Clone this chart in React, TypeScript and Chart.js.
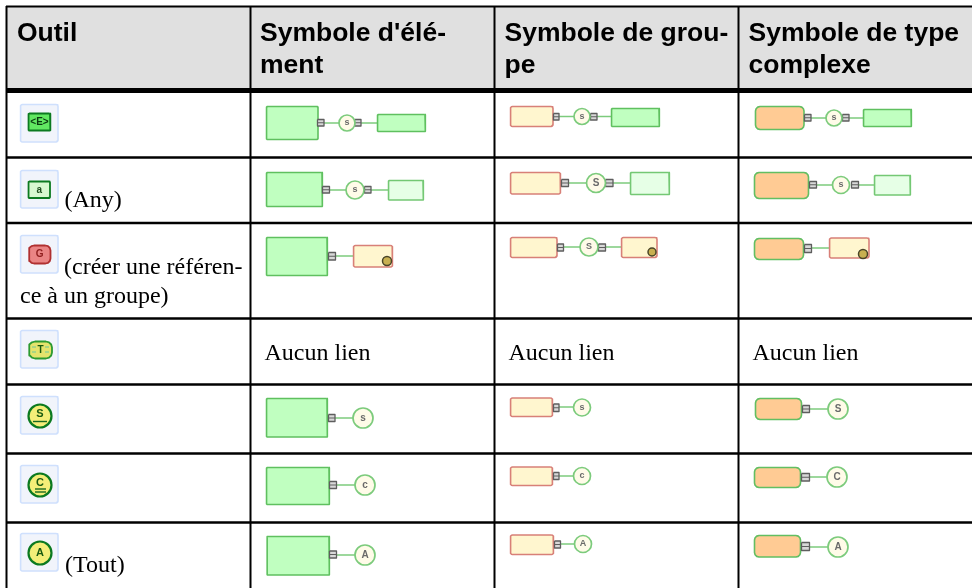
import React, { useEffect, useRef } from "react";
import { Chart, registerables } from "chart.js";

Chart.register(...registerables);

type Box = [number, number, number, number];
type Label = [string, number, number];

const headerLines: Label[] = [
  ["Outil", 17, 41],
  ["Symbole d'élé-", 260, 41],
  ["ment", 260, 73],
  ["Symbole de grou-", 504.5, 41],
  ["pe", 504.5, 73],
  ["Symbole de type", 748.5, 41],
  ["complexe", 748.5, 73],
];
const bodyLines: Label[] = [
  ["(Any)", 64.5, 207],
  ["(créer une référen-", 64, 274],
  ["ce à un groupe)", 20, 303],
  ["Aucun lien", 264.5, 360],
  ["Aucun lien", 508.5, 360],
  ["Aucun lien", 752.5, 360],
  ["(Tout)", 65, 572],
];

const verticalRules = [6.5, 250.5, 494.5, 738.5];
const horizontalRules: [number, number][] = [
  [6.5, 2], [90.5, 5], [157.5, 2.5], [223, 2.5], [318.5, 2.5], [384.5, 2.5], [453.5, 2.5], [522.5, 2.5],
];
const headerBand: Box = [7, 7, 972, 88];

const iconTiles: Box = [20.5, 104.5, 58, 142] as Box;
const iconTops = [104.5, 170.5, 235.5, 330.5, 396.5, 465.5, 533.5];

const elementGreen: Box[] = [
  [266.5, 106.5, 318, 139.5], [377.5, 114.5, 425.5, 131.5],
  [266.5, 172.5, 322.5, 206.5], [611.5, 108.5, 659.5, 126.5],
  [266.5, 237.5, 327.5, 275.5], [863.5, 109.5, 911.5, 126.5],
  [266.5, 398.5, 327.5, 437], [266.5, 467.5, 329.5, 504.5], [267, 536.5, 329.5, 575],
];
const elementPale: Box[] = [
  [388.5, 180.5, 423.5, 200], [630.5, 172.5, 669.5, 194.5], [874.5, 175.5, 910.5, 195],
];
const groupBoxes: Box[] = [
  [510.5, 106.5, 553, 126.5], [510.5, 172.5, 560.5, 194],
  [353.5, 245.5, 392.5, 267], [510.5, 237.5, 557, 257.5], [621.5, 237.5, 657, 257.5], [829.5, 238, 869, 258],
  [510.5, 398, 552.5, 416.5], [510.5, 467, 552.5, 485.5], [510.5, 535, 553.5, 554.5],
];
const complexBoxes: Box[] = [
  [755.5, 106.5, 804, 129.5], [754.5, 172.5, 808.5, 198.5], [754.5, 238.5, 803.5, 259.5],
  [755.5, 398.5, 801.5, 419.5], [754.5, 467.5, 800.5, 487.5], [754.5, 535.5, 800.5, 557],
];
const portBoxes: Box[] = [
  [317.5, 119.5, 324, 126], [354.5, 119.5, 361, 126], [322.5, 186.5, 329.5, 193], [364.5, 186.5, 371, 193],
  [328.5, 252.5, 335.5, 260], [328.5, 414.5, 335, 421.5], [329.5, 481.5, 336.5, 488.5], [329.5, 551, 336.5, 558],
  [553.5, 113.5, 559, 120], [590.5, 113.5, 597, 120], [561.5, 179.5, 568.5, 186.5], [605.5, 179.5, 613, 186.5],
  [557.5, 244, 563.5, 251], [598.5, 244, 605.5, 251], [553.5, 404, 559, 411.5], [553.5, 472.5, 559, 479.5], [554.5, 541, 560.5, 548],
  [804.5, 114.5, 811, 121], [842.5, 114.5, 849, 121], [809.5, 181.5, 816.5, 188], [851.5, 181.5, 858.5, 188],
  [804.5, 244.5, 811.5, 252.5], [802.5, 405.5, 809.5, 412.5], [801.5, 473.5, 809.5, 481], [801.5, 542.5, 809.5, 550.5],
];
// x0, x1, y
const connectors: [number, number, number][] = [
  [324, 339, 123], [361, 377, 123], [330, 346, 190], [371, 388, 190], [336, 353, 256],
  [335, 353, 418], [337, 355, 485], [337, 355, 555],
  [559, 574, 116.5], [597, 611, 116.5], [569, 587, 183], [613, 630, 183], [564, 580, 247], [606, 621, 247],
  [559, 574, 407], [559, 574, 476], [561, 575, 544],
  [811, 826, 118], [849, 863, 118], [817, 833, 185], [859, 874, 185], [812, 829, 248],
  [810, 828, 409], [810, 827, 477], [810, 828, 547],
];
// x, y, radius, letter
const particles: [number, number, number, string][] = [
  [347, 123, 8, "s"], [355, 190, 9, "s"], [363, 418, 10, "s"], [365, 485, 10, "c"], [365, 555, 10, "A"],
  [582, 116.5, 8, "s"], [596, 183, 9.5, "S"], [589, 247, 9, "S"], [582, 407.5, 8.5, "s"], [582, 476, 8.5, "c"], [583, 544, 8.5, "A"],
  [834, 118, 8, "s"], [841, 185, 8.5, "s"], [838, 409, 10, "S"], [837, 477, 10, "C"], [838, 547, 10, "A"],
];
const groupRefs: [number, number, number][] = [[387, 261, 4.5], [652, 252, 4], [863, 254, 4.5]];

const iconBoxes: { box: Box; fill: string; edge: string; r: number; letter: string; ink: string }[] = [
  { box: [28.5, 113.5, 50.5, 130.5], fill: "#62e862", edge: "#0c7a20", r: 1, letter: "<E>", ink: "#0a3a10" },
  { box: [28.5, 181.5, 50, 198], fill: "#d8f8d0", edge: "#0c7a20", r: 1, letter: "a", ink: "#205020" },
  { box: [29, 245.5, 50.5, 263.5], fill: "#ea8484", edge: "#b03030", r: 5, letter: "G", ink: "#902020" },
  { box: [29, 341.5, 52, 358.5], fill: "#e4e36c", edge: "#2c9a30", r: 6, letter: "T", ink: "#1a5a10" },
];
// x, y, radius, letter, letter y
const iconDiscs: [number, number, number, string, number][] = [
  [40, 416, 11.5, "S", 414], [40, 485, 11.5, "C", 482.5], [40, 553, 11.5, "A", 553],
];
// x0, x1, y of the small strokes inside the tool icons
const iconStrokes: [number, number, number, string][] = [
  [33, 47, 421.5, "#1a6a20"], [35, 46, 489, "#1a6a20"], [35, 46, 492, "#1a6a20"],
  [32, 36, 347, "#8fd08f"], [32, 36, 352, "#8fd08f"], [45, 49, 347, "#8fd08f"], [45, 49, 352, "#8fd08f"],
];

// closed outline of a rectangle with rounded corners, in axis units
const outline = ([x0, y0, x1, y1]: Box, r: number) => {
  if (r <= 0) return [[x0, y0], [x1, y0], [x1, y1], [x0, y1], [x0, y0]].map(([x, y]) => ({ x, y }));
  const corners: [number, number, number][] = [[x1 - r, y0 + r, -90], [x1 - r, y1 - r, 0], [x0 + r, y1 - r, 90], [x0 + r, y0 + r, 180]];
  const pts: { x: number; y: number }[] = [];
  corners.forEach(([cx, cy, start]) => {
    for (let a = start; a <= start + 90; a += 30) {
      pts.push({ x: cx + r * Math.cos((a * Math.PI) / 180), y: cy + r * Math.sin((a * Math.PI) / 180) });
    }
  });
  pts.push(pts[0]);
  return pts;
};

const shape = (box: Box, r: number, fill: string, edge: string, w = 1) => ({
  type: "scatter" as const,
  showLine: true,
  data: outline(box, r),
  fill: "shape" as any,
  backgroundColor: fill,
  borderColor: edge,
  borderWidth: w,
  borderJoinStyle: "round" as const,
  pointRadius: 0,
  tension: 0,
  clip: false as any,
});
const rule = (x0: number, y0: number, x1: number, y1: number, color: string, w: number) => ({
  type: "scatter" as const,
  showLine: true,
  data: [{ x: x0, y: y0 }, { x: x1, y: y1 }],
  borderColor: color,
  borderWidth: w,
  pointRadius: 0,
  fill: false,
  clip: false as any,
});
const disc = (x: number, y: number, r: number, fill: string, edge: string, w: number) => ({
  type: "scatter" as const,
  data: [{ x, y }],
  pointRadius: r,
  pointBackgroundColor: fill,
  pointBorderColor: edge,
  pointBorderWidth: w,
  clip: false as any,
});

const paintOrder = [
  shape(headerBand, 0, "#e0e0e0", "#e0e0e0", 0),
  ...verticalRules.map((x) => rule(x, 6, x, 588, "#000000", 2)),
  ...horizontalRules.map(([y, w]) => rule(6, y, 972, y, "#000000", w)),
  ...iconTops.map((t) => shape([iconTiles[0], t, iconTiles[2], t + (iconTiles[3] - iconTiles[1])], 2, "#f1f4fb", "#cfe0fd", 1.6)),
  ...iconBoxes.map((b) => shape(b.box, b.r, b.fill, b.edge, 1.8)),
  ...iconDiscs.map(([x, y, r]) => disc(x, y, r, "#f4ee78", "#0c7a20", 2.2)),
  ...iconStrokes.map(([a, b, y, c]) => rule(a, y, b, y, c, 1.4)),
  ...connectors.map(([a, b, y]) => rule(a, y, b, y, "#7ccb7c", 1.5)),
  ...elementGreen.map((b) => shape(b, 1, "#c0ffc0", "#5fc05f", 1.6)),
  ...elementPale.map((b) => shape(b, 1, "#e6ffe6", "#74c874", 1.6)),
  ...groupBoxes.map((b) => shape(b, 2, "#fff6cf", "#d88078", 1.6)),
  ...complexBoxes.map((b) => shape(b, 4.5, "#ffcb94", "#62be62", 1.6)),
  ...portBoxes.map((b) => shape(b, 0, "#d8d8d8", "#5e5e5e", 1.3)),
  ...portBoxes.map(([x0, y0, x1, y1]) => rule(x0, (y0 + y1) / 2, x1, (y0 + y1) / 2, "#5e5e5e", 1)),
  ...particles.map(([x, y, r]) => disc(x, y, r, "#fffbe8", "#7ccb7c", 1.7)),
  ...groupRefs.map(([x, y, r]) => disc(x, y, r, "#c8b050", "#4a4528", 1.5)),
];

const tableText = {
  id: "tableText",
  afterDatasetsDraw(chart: any) {
    const { ctx, scales } = chart;
    const px = (x: number) => scales.x.getPixelForValue(x);
    const py = (y: number) => scales.y.getPixelForValue(y);
    ctx.save();
    ctx.fillStyle = "#000";
    ctx.textBaseline = "alphabetic";
    ctx.textAlign = "left";
    ctx.font = 'bold 26.5px "Liberation Sans"';
    headerLines.forEach(([t, x, y]) => ctx.fillText(t, px(x), py(y)));
    ctx.font = '24px "Liberation Serif"';
    bodyLines.forEach(([t, x, y]) => ctx.fillText(t, px(x), py(y)));
    ctx.textAlign = "center";
    ctx.textBaseline = "middle";
    iconBoxes.forEach((b) => {
      ctx.fillStyle = b.ink;
      ctx.font = 'bold 10px "Liberation Sans"';
      ctx.fillText(b.letter, px((b.box[0] + b.box[2]) / 2), py((b.box[1] + b.box[3]) / 2));
    });
    iconDiscs.forEach(([x, , , t, ly]) => {
      ctx.fillStyle = "#1a5a10";
      ctx.font = 'bold 11px "Liberation Sans"';
      ctx.fillText(t, px(x), py(ly));
    });
    particles.forEach(([x, y, r, t]) => {
      ctx.fillStyle = "#6a6a6a";
      ctx.font = `bold ${r >= 9.5 ? 10 : 9}px "Liberation Sans"`;
      ctx.fillText(t, px(x), py(y));
    });
    ctx.restore();
  },
};

export default function App() {
  const ref = useRef<HTMLCanvasElement>(null);
  useEffect(() => {
    const chart = new Chart(ref.current!, {
      type: "scatter",
      // Chart.js paints the first dataset last
      data: { datasets: [...paintOrder].reverse() as any },
      options: {
        animation: false,
        responsive: false,
        events: [],
        layout: { padding: 0, autoPadding: false },
        plugins: { legend: { display: false }, tooltip: { enabled: false }, title: { display: false } },
        scales: {
          x: { type: "linear", display: false, min: 0, max: 972 },
          y: { type: "linear", display: false, min: 0, max: 588, reverse: true },
        },
      },
      plugins: [tableText],
    });
    return () => chart.destroy();
  }, []);
  return (
    <div style={{ position: "fixed", left: 0, top: 0, width: 972, height: 588, overflow: "hidden", background: "#fff" }}>
      <canvas ref={ref} width={972} height={588} style={{ display: "block", filter: "blur(0.5px)" }} />
    </div>
  );
}
